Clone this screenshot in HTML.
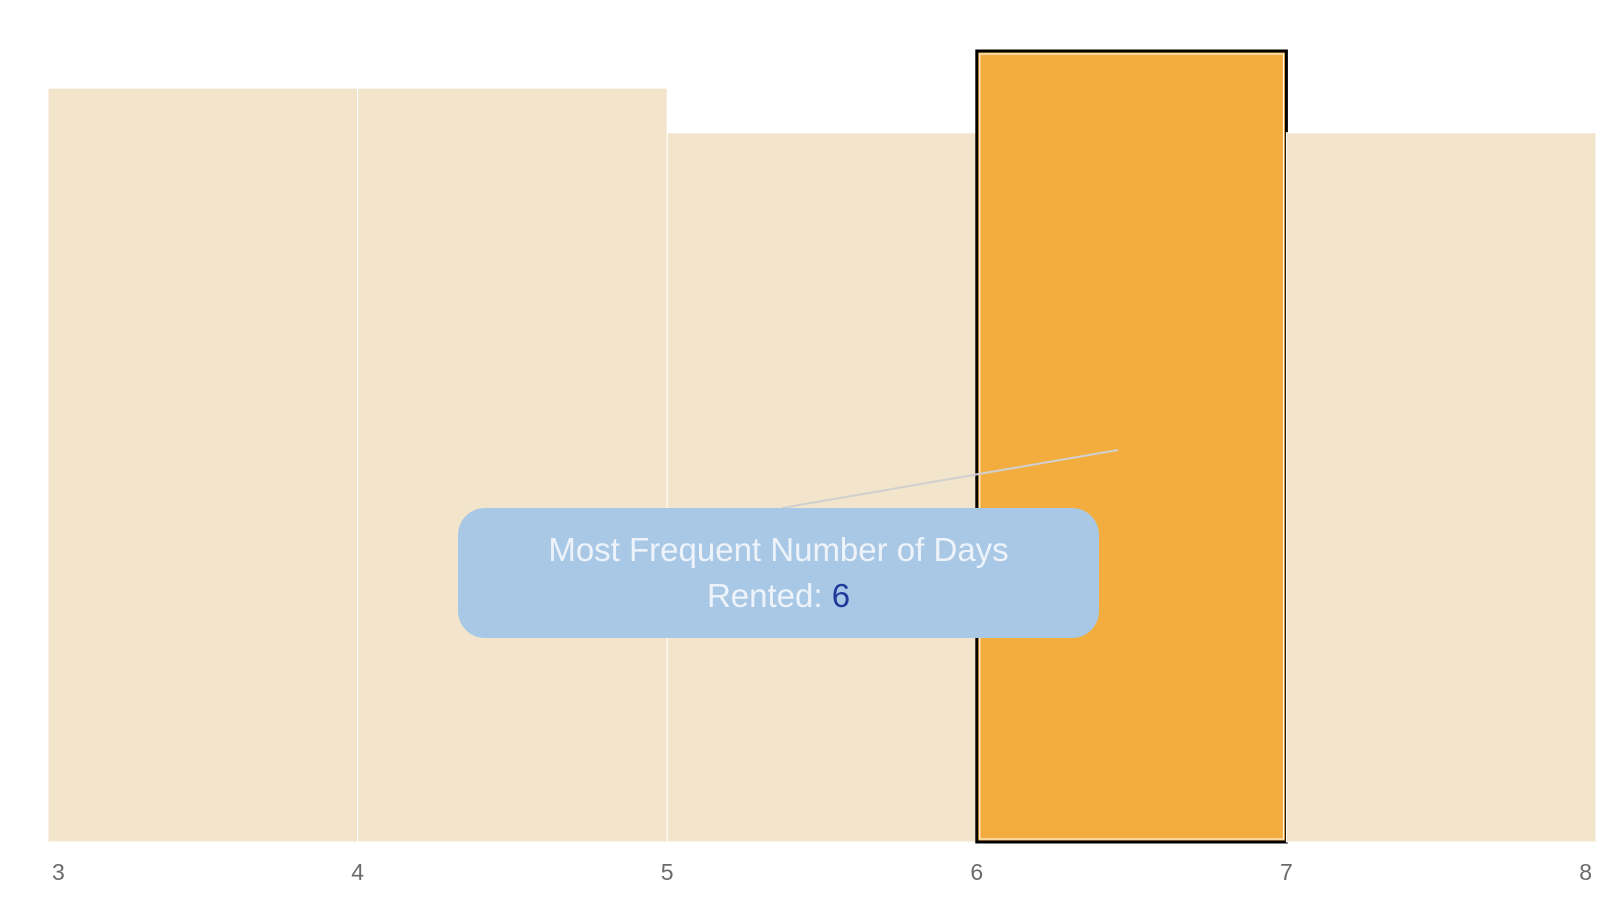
<!DOCTYPE html>
<html><head><meta charset="utf-8"><style>
html,body{margin:0;padding:0;background:#fff;width:1622px;height:912px;overflow:hidden}
svg{display:block}
</style></head><body>
<svg id="chart" width="1622" height="912" font-family="Liberation Sans, sans-serif"></svg>
<script>
const binStarts=[3,4,5,6,7];
const counts=[203,203,191,213,191];
const highlightBin=6;
const tickLabels=[3,4,5,6,7,8];
const svg=document.getElementById('chart');
const NS='http://www.w3.org/2000/svg';
const x0=48,x1=1596,yB=842,yT=51;
const xs=v=>x0+(v-3)/(8-3)*(x1-x0);
const maxC=Math.max(...counts);
const ys=v=>yB-v/maxC*(yB-yT);
function mk(t,a){const e=document.createElementNS(NS,t);for(const k in a)e.setAttribute(k,a[k]);svg.appendChild(e);return e;}
binStarts.forEach((b,i)=>{
  const hi=b===highlightBin;
  const r=mk('rect',{x:xs(b),y:ys(counts[i]),width:xs(b+1)-xs(b),height:yB-ys(counts[i]),fill:hi?'#f2ad3e':'#f3e5cb',stroke:hi?'#000':'#fff','stroke-width':hi?3:1});
  
  
  if(hi){const r2=mk('rect',{x:xs(b)+3,y:ys(counts[i])+3,width:xs(b+1)-xs(b)-6,height:yB-ys(counts[i])-6,fill:'none',stroke:'#fff','stroke-width':1});
    
    }
});
tickLabels.forEach((t,i)=>{
  let x=xs(t);
  let anchor='middle';
  if(i===0){anchor='start';x+=4;}
  if(i===tickLabels.length-1){anchor='end';x-=4;}
  const e=mk('text',{x:x,y:880,'text-anchor':anchor,'font-size':23,fill:'#6b6b6b'});
  e.textContent=t;
  
  
});
</script>
<svg width="1622" height="912" style="position:absolute;left:0;top:0">
<line x1="782" y1="508" x2="1118" y2="450" stroke="#d0d0d0" stroke-width="2"/>
</svg>
<div style="position:absolute;left:458px;top:508px;width:641px;height:130px;background:#a8c8e6;border-radius:27px;box-sizing:border-box;padding-top:19px;text-align:center;font-family:'Liberation Sans',sans-serif;font-size:33px;line-height:46px;color:#eef3fa">
<span>Most Frequent Number of Days<br>Rented: <span style="color:#1f3a9a">6</span></span>
</div>
</body></html>
